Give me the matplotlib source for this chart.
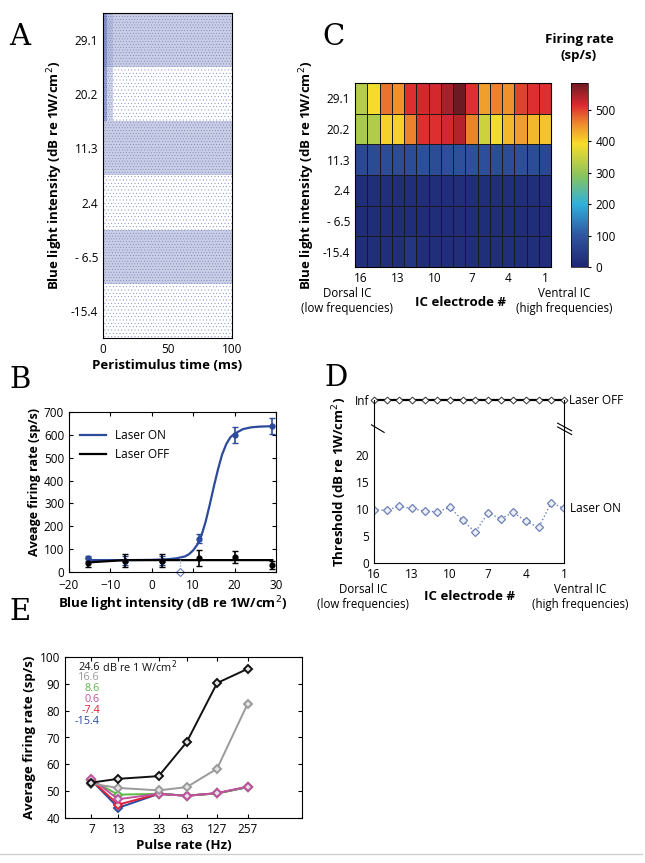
import numpy as np
import matplotlib
matplotlib.use("Agg")
import matplotlib.pyplot as plt
from matplotlib.colors import LinearSegmentedColormap
from matplotlib.lines import Line2D

plt.rcParams['font.family'] = ['Open Sans', 'DejaVu Sans']
plt.rcParams['font.size'] = 8.5
plt.rcParams['hatch.linewidth'] = 0.25
plt.rcParams['axes.linewidth'] = 0.8

W, H = 645, 863

# ---- data ----
intensity_labels = ['-15.4', '- 6.5', '2.4', '11.3', '20.2', '29.1']
intensities = [-15.4, -6.5, 2.4, 11.3, 20.2, 29.1]
shaded_rows = [1, 3, 5]
onset_edges = [0, 3, 8]  # ms, dense onset spikes in the two loudest rows

electrodes = list(range(16, 0, -1))
# panel C firing rates, rows bottom (-15.4) -> top (29.1), columns electrode 16 -> 1
rate_map = [
    [18, 18, 16, 18, 35, 18, 18, 16, 18, 16, 18, 18, 18, 18, 16, 16],
    [14, 14, 14, 14, 14, 14, 14, 14, 14, 14, 14, 14, 14, 14, 14, 14],
    [16, 16, 16, 16, 16, 16, 18, 16, 16, 16, 16, 16, 16, 16, 16, 16],
    [75, 78, 80, 80, 80, 85, 80, 85, 90, 88, 85, 80, 80, 85, 80, 70],
    [320, 325, 400, 400, 460, 510, 510, 520, 540, 460, 350, 390, 420, 440, 420, 410],
    [330, 390, 470, 450, 510, 520, 520, 550, 590, 510, 440, 460, 450, 500, 510, 510],
]

on_mean = [60, 50, 50, 145, 600, 638]
on_err = [12, 20, 20, 20, 35, 35]
off_mean = [40, 50, 50, 60, 65, 30]
off_err = [20, 30, 30, 35, 25, 18]
fit_x = [-15.4, -10, -5, 0, 4, 6, 8, 9, 10, 11, 12, 13, 14, 15, 16, 17, 18, 19, 20, 22, 24, 26, 29.1]
fit_y = [52, 52, 52, 53, 56, 60, 68, 78, 95, 120, 160, 220, 295, 375, 450, 515, 560, 590, 605, 625, 633, 636, 638]
off_fit_x = [-15.4, -6.5, 29.1]
off_fit_y = [42, 52, 52]
threshold_x = 6.8
threshold_y = 64

thr_on = [9.8, 9.8, 10.5, 10.1, 9.6, 9.5, 10.3, 7.9, 5.7, 9.3, 8.2, 9.4, 7.7, 6.6, 11.2, 10.1]
inf_level = 30.2

pulse_rates = [7, 13, 33, 63, 127, 257]
e_levels = ['-15.4', '-7.4', '8.6', '0.6', '16.6', '24.6']
e_colors = ['#2a4a9a', '#e0203a', '#5cb848', '#c050a0', '#9a9a9a', '#111111']
e_rates = [
    [54, 43.8, 49, 48.3, 49.2, 51.5],
    [54, 45, 49, 48.3, 49.2, 51.6],
    [54, 48.7, 49, 48.3, 49.2, 51.5],
    [54.5, 47, 49, 48.3, 49.3, 51.7],
    [52.8, 51.2, 50.3, 51.5, 58.4, 82.6],
    [53.2, 54.6, 55.6, 68.3, 90.3, 95.6],
]


fig = plt.figure(figsize=(W / 100, H / 100), dpi=100)


def ax_px(x0, y0, x1, y1):
    return fig.add_axes([x0 / W, 1 - y1 / H, (x1 - x0) / W, (y1 - y0) / H])


def letter(x, y, s):
    fig.text(x / W, 1 - y / H, s, family='DejaVu Serif', fontsize=21, ha='center', va='center')


lab = dict(fontweight='bold', fontsize=9.5)
tick_fs = 8.5

# ---- A: raster ----
axA = ax_px(103, 13, 232, 338)
for r in range(6):
    if r in shaded_rows:
        axA.fill_between([0, 100], r, r + 1, color='#c9cde5', lw=0)
    axA.fill_between([0, 100], r, r + 1, facecolor='none', edgecolor='#5866a8', lw=0,
                     hatch='......' if r in shaded_rows else '.....', alpha=0.8)
for r in [4, 5]:
    axA.fill_between(onset_edges[:2], r, r + 1, facecolor='#7584c4', alpha=0.7,
                     edgecolor='#2e4196', lw=0, hatch='........')
    axA.fill_between(onset_edges[1:], r, r + 1, facecolor='#a9b2dc', alpha=0.5,
                     edgecolor='#3d50a0', lw=0, hatch='.......')
axA.set_xlim(0, 100)
axA.set_ylim(0, 6)
axA.set_xticks([0, 50, 100])
axA.set_yticks(np.arange(6) + 0.5)
axA.set_yticklabels(intensity_labels)
axA.tick_params(length=0, labelsize=tick_fs)
axA.set_xlabel('Peristimulus time (ms)', labelpad=2, **lab)
axA.set_ylabel('Blue light intensity (dB re 1W/cm$^2$)', labelpad=4, **lab)
letter(20, 37, 'A')

# ---- C: heat map ----
cmap = LinearSegmentedColormap.from_list('fr', [
    (0.0, '#1e2672'), (0.17, '#30559f'), (0.34, '#2fb0dc'), (0.5, '#8cc45a'),
    (0.67, '#f7dc2b'), (0.78, '#ee8a2c'), (0.88, '#dc2a2f'), (1.0, '#6e1a22')])
axC = ax_px(355, 83, 551, 267)
mesh = axC.pcolormesh(np.arange(17), np.arange(7), np.array(rate_map), cmap=cmap,
                      vmin=0, vmax=585, edgecolors='#1a1a1a', linewidth=0.5)
axC.set_xticks([i + 0.5 for i, e in enumerate(electrodes) if e in (16, 13, 10, 7, 4, 1)])
axC.set_xticklabels(['16', '13', '10', '7', '4', '1'])
axC.set_yticks(np.arange(6) + 0.5)
axC.set_yticklabels(intensity_labels)
axC.tick_params(length=0, labelsize=tick_fs)
axC.set_ylabel('Blue light intensity (dB re 1W/cm$^2$)', labelpad=4, **lab)
fig.text(460 / W, 1 - 302 / H, 'IC electrode #', ha='center', va='center', **lab)
fig.text(347 / W, 1 - 301 / H, 'Dorsal IC\n(low frequencies)', ha='center', va='center',
         fontsize=8.3, linespacing=1.2)
fig.text(564 / W, 1 - 301 / H, 'Ventral IC\n(high frequencies)', ha='center', va='center',
         fontsize=8.3, linespacing=1.2)
cax = ax_px(571, 83, 588, 267)
cb = fig.colorbar(mesh, cax=cax, ticks=[0, 100, 200, 300, 400, 500])
cb.outline.set_linewidth(0.5)
cax.tick_params(length=2, labelsize=tick_fs)
fig.text(579 / W, 1 - 48 / H, 'Firing rate\n(sp/s)', ha='center', va='center', linespacing=1.3, **lab)
letter(334, 37, 'C')

# ---- B: rate-intensity ----
axB = ax_px(69, 412, 276, 572)
axB.plot(fit_x, fit_y, color='#2c4a9c', lw=1.6, label='Laser ON')
axB.plot(off_fit_x, off_fit_y, color='black', lw=1.6, label='Laser OFF')
axB.errorbar(intensities, on_mean, yerr=on_err, fmt='o', ms=3.5, color='#2c4a9c',
             capsize=2, elinewidth=1.2)
axB.errorbar(intensities, off_mean, yerr=off_err, fmt='o', ms=3.5, color='black',
             capsize=2, elinewidth=1.2)
axB.plot([threshold_x, threshold_x], [0, threshold_y], ls=':', color='#7a8ac0', lw=0.8)
axB.plot([threshold_x], [0], marker='D', ms=4, mfc='white', mec='#6a7fc0', mew=0.8,
         clip_on=False, ls='none')
axB.set_xlim(-20, 30)
axB.set_ylim(0, 700)
axB.set_xticks([-20, -10, 0, 10, 20, 30])
axB.set_yticks(range(0, 701, 100))
axB.tick_params(direction='in', length=3, labelsize=tick_fs, top=True, right=True)
axB.tick_params(axis='x', pad=5)
axB.set_xlabel('Blue light intensity (dB re 1W/cm$^2$)', labelpad=2, **lab)
axB.set_ylabel('Aveage firing rate (sp/s)', labelpad=2, fontweight='bold', fontsize=9,
               y=0.56)
axB.legend(loc='upper left', frameon=False, fontsize=8.5, handlelength=2.2,
           bbox_to_anchor=(0.0, 0.96))
letter(20, 380, 'B')

# ---- D: thresholds ----
axD = ax_px(374, 400, 564, 563)
xs = np.arange(16)
axD.plot(xs, thr_on, ls=':', color='#6d80b8', lw=1, marker='D', ms=4.5,
         mfc='#eef0f8', mec='#6d80b8', mew=0.9)
axD.plot(xs, [inf_level] * 16, color='black', lw=1.6, marker='D', ms=3.5,
         mfc='white', mec='#333333', mew=0.7, clip_on=False)
axD.set_xlim(0, 15)
axD.set_ylim(0, inf_level)
axD.set_xticks([i for i, e in enumerate(electrodes) if e in (16, 13, 10, 7, 4, 1)])
axD.set_xticklabels(['16', '13', '10', '7', '4', '1'])
axD.set_yticks([0, 5, 10, 15, 20, inf_level])
axD.set_yticklabels(['0', '5', '10', '15', '20', 'Inf'])
axD.spines['top'].set_visible(False)
axD.tick_params(length=0, labelsize=tick_fs)
axD.set_ylabel('Threshold (dB re 1W/cm$^2$)', labelpad=4, **lab)
axD.text(15.5, thr_on[-1], 'Laser ON', va='center', fontsize=8.5)
axD.text(15.4, inf_level, 'Laser OFF', va='center', fontsize=8.5)
# axis-break marks
axD.add_line(Line2D([-0.2, 0.8], [25.6, 24.2], color='black', lw=0.8, clip_on=False))
for dy in (0, -0.7):
    axD.add_line(Line2D([14.5, 15.6], [25.9 + dy, 24.5 + dy], color='black', lw=0.8, clip_on=False))
fig.text(470 / W, 1 - 596 / H, 'IC electrode #', ha='center', va='center', **lab)
fig.text(363 / W, 1 - 597 / H, 'Dorsal IC\n(low frequencies)', ha='center', va='center',
         fontsize=8.3, linespacing=1.2)
fig.text(580 / W, 1 - 597 / H, 'Ventral IC\n(high frequencies)', ha='center', va='center',
         fontsize=8.3, linespacing=1.2)
letter(336, 378, 'D')

# ---- E: pulse rate ----
axE = ax_px(65, 657, 302, 818)
for lvl, c, ys in zip(e_levels, e_colors, e_rates):
    axE.plot(pulse_rates, ys, color=c, lw=1.4, marker='D', ms=4.5, mfc='#e4e4e4',
             mec=c, mew=1.4)
axE.set_xscale('log')
axE.set_xlim(3.8, 900)
axE.set_ylim(40, 100)
axE.set_xticks(pulse_rates)
axE.set_xticklabels([str(p) for p in pulse_rates])
axE.minorticks_off()
axE.tick_params(direction='in', length=3, labelsize=tick_fs, right=True, top=True)
axE.set_xlabel('Pulse rate (Hz)', labelpad=2, **lab)
axE.set_ylabel('Average firing rate (sp/s)', labelpad=3, **lab)
legend_order = ['24.6', '16.6', '8.6', '0.6', '-7.4', '-15.4']
legend_colors = ['#111111', '#9a9a9a', '#5cb848', '#c050a0', '#e0203a', '#2a4a9a']
for i, (t, c) in enumerate(zip(legend_order, legend_colors)):
    y = 667 + i * 10.8
    fig.text(100 / W, 1 - y / H, t, color=c, ha='right', va='center', fontsize=7.8)
fig.text(100 / W, 1 - 667 / H, ' dB re 1 W/cm$^2$', color='#111111', ha='left', va='center',
         fontsize=7.8)
letter(20, 612, 'E')

fig.add_artist(Line2D([0.0, 0.995], [1 - 854 / H, 1 - 854 / H], color='#d0d0d0', lw=1))

fig.savefig('out.png', dpi=100)
